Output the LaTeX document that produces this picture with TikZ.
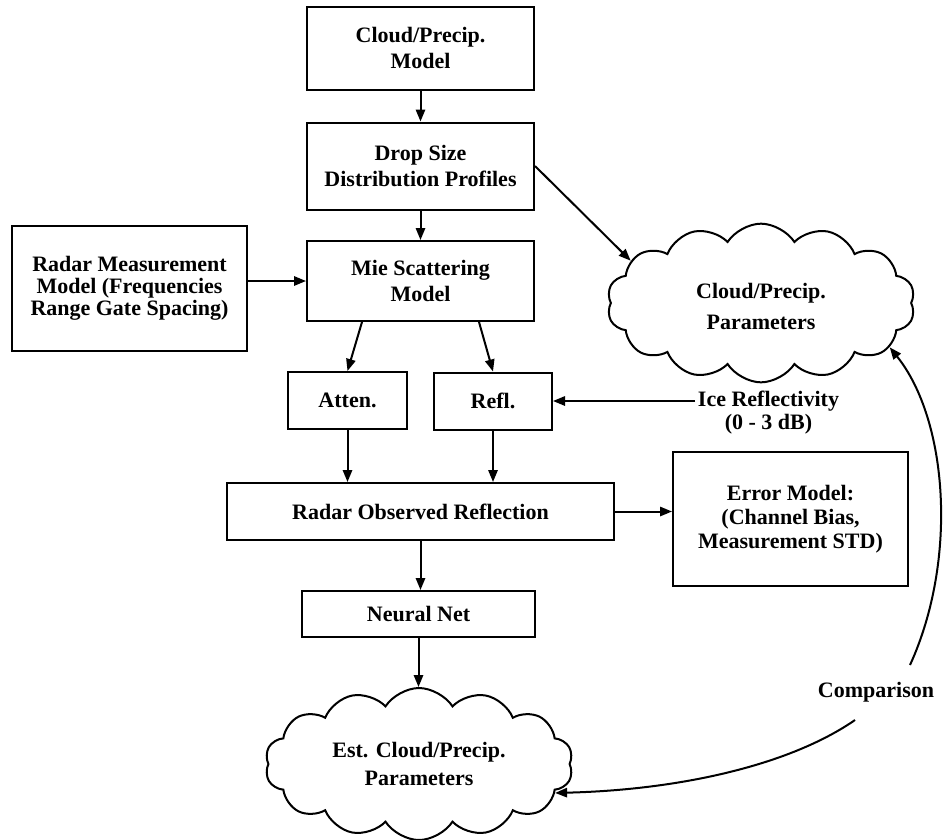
\documentclass[tikz,border=0pt]{standalone}
\usepackage{fontspec}
\setmainfont{Liberation Serif}
\usetikzlibrary{arrows.meta,shapes.symbols,calc}
\begin{document}
\begin{tikzpicture}[x=0.75pt,y=-0.75pt,
  every node/.style={font=\bfseries\fontsize{16.5}{19.5}\selectfont, align=center, inner sep=2pt},
  box/.style={draw, line width=1.5pt, rectangle},
  cld/.style={draw, line width=1.5pt, cloud, cloud puffs=14, cloud puff arc=115, cloud ignores aspect},
  arr/.style={line width=1.5pt, -{Triangle[length=9pt,width=7pt]}}
]
\useasboundingbox (0,0) rectangle (944,839);
\node[box, minimum width=170.25pt, minimum height=62.25pt] (cpm) at (420.5,48) {Cloud/Precip.\\Model};
\node[box, minimum width=170.25pt, minimum height=65.25pt] (dsd) at (420.5,166) {Drop Size\\Distribution Profiles};
\node[box, minimum width=170.25pt, minimum height=60pt] (mie) at (420.5,281) {Mie Scattering\\Model};
\node[box, minimum width=176.25pt, minimum height=93.75pt, font=\bfseries\fontsize{16.5}{16.5}\selectfont] (rmm) at (129.5,288) {Radar Measurement\\Model (Frequencies\\Range Gate Spacing)};
\node[box, minimum width=89.25pt, minimum height=42.75pt] (att) at (347.5,400.5) {Atten.};
\node[box, minimum width=88.5pt, minimum height=42.75pt] (refl) at (493,401) {Refl.};
\node[box, minimum width=290.25pt, minimum height=42.75pt] (ror) at (420.5,511.5) {Radar Observed Reflection};
\node[box, minimum width=176.25pt, minimum height=100.5pt, font=\bfseries\fontsize{16.5}{18}\selectfont] (err) at (790.5,519) {Error Model:\\(Channel Bias,\\Measurement STD)};
\node[box, minimum width=174.75pt, minimum height=34.5pt] (nn) at (418.5,614) {Neural Net};
\node[cld, minimum width=231pt, minimum height=119pt, font=\bfseries\fontsize{16.5}{23}\selectfont] (cp) at (761,303) {\\[-6pt]Cloud/Precip.\\Parameters};
\node[cld, minimum width=231pt, minimum height=114pt, font=\bfseries\fontsize{16.5}{21}\selectfont] (ecp) at (419,764) {Est. Cloud/Precip.\\Parameters};
\node[font=\bfseries\fontsize{16.5}{17.5}\selectfont, anchor=north west] (ice) at (695,388) {Ice Reflectivity\\(0 - 3 dB)};
\node (cmp) at (876,692) {Comparison};
\coordinate (c1) at (910,665);
\coordinate (c2) at (855,720);

\draw[arr] (cpm) -- (dsd);
\draw[arr] (dsd) -- (mie);
\draw[arr] (dsd.east) -- (cp.162);
\draw[arr] (rmm.east |- mie.west) -- (mie.west);
\draw[arr] ($(mie.south)+(-58.5,0)$) -- (att.north);
\draw[arr] ($(mie.south)+(58.5,0)$) -- (refl.north);
\draw[arr] (ice.west |- refl.east) -- (refl.east);
\draw[arr] (att.south) -- (att.south |- ror.north);
\draw[arr] (refl.south) -- (refl.south |- ror.north);
\draw[arr] (ror.east) -- (ror.east -| err.west);
\draw[arr] (ror.south) -- (ror.south |- nn.north);
\draw[arr] (nn.south) -- (nn.south |- ecp.north);
\draw[arr] (c1) .. controls (958,560) and (948,420) .. (cp.-19);
\draw[arr] (c2) .. controls (790,765) and (680,790) .. (ecp.-12);
\end{tikzpicture}
\end{document}
